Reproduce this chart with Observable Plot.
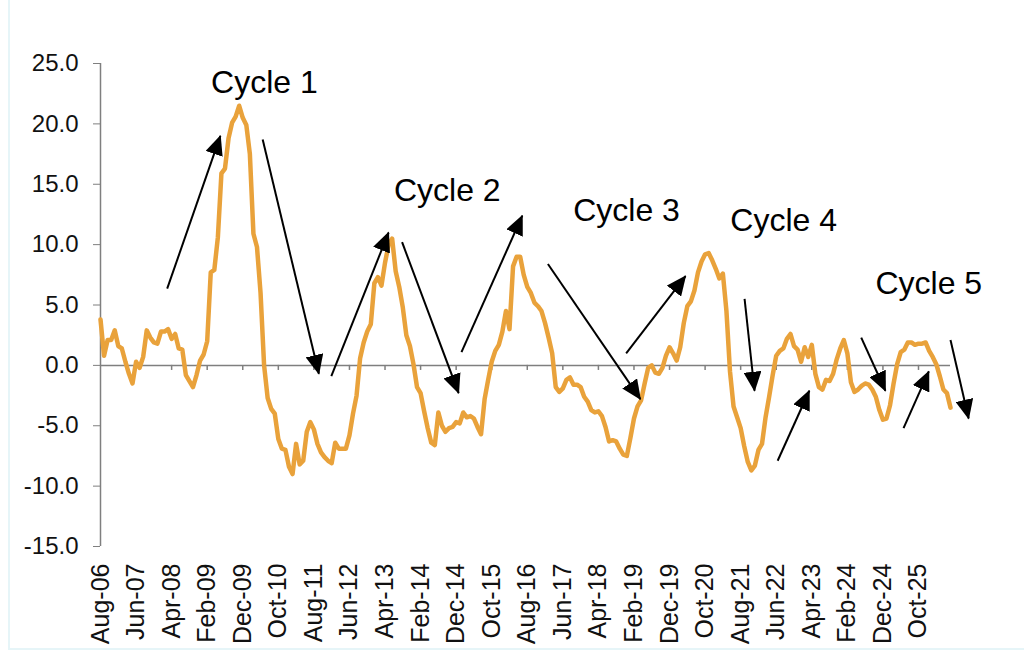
<!DOCTYPE html>
<html>
<head>
<meta charset="utf-8">
<script src="https://cdn.jsdelivr.net/npm/d3@7"></script>
<script src="https://cdn.jsdelivr.net/npm/@observablehq/plot@0.6"></script>
<style>
html, body { margin: 0; padding: 0; background: #fff; }
#wrap { position: relative; width: 1024px; height: 660px; overflow: hidden; }
#frame { position: absolute; left: 8px; top: -4px; width: 1040px; height: 652px;
  border-left: 2px solid #e6f5f8; border-bottom: 2px solid #e6f5f8; pointer-events: none; }
</style>
</head>
<body>
<div id="wrap"><div id="chart"></div><div id="frame"></div></div>
<script>
// Monthly values from Aug-06 (index 0) onward
const values = [
  3.8, 0.8, 2.1, 2.1, 2.9, 1.6, 1.4, 0.3, -0.7, -1.5,
  0.3, -0.2, 0.7, 2.9, 2.3, 1.9, 1.8, 2.8, 2.8, 3.0,
  2.2, 2.6, 1.4, 1.3, -0.8, -1.3, -1.8, -0.8, 0.4, 0.9,
  2.0, 7.7, 7.9, 10.6, 15.9, 16.3, 18.8, 20.1, 20.6, 21.5,
  20.5, 19.9, 17.5, 10.9, 9.8, 6.0, 0.0, -2.7, -3.6, -4.0,
  -6.1, -6.9, -7.0, -8.4, -9.0, -6.5, -8.2, -7.9, -5.5, -4.7,
  -5.3, -6.5, -7.2, -7.6, -7.9, -8.1, -6.4, -6.9, -6.9, -6.9,
  -5.8, -4.0, -2.5, 0.6, 1.9, 2.8, 3.4, 6.8, 7.3, 6.6,
  8.5, 10.0, 10.5, 7.8, 6.5, 4.8, 2.5, 1.6, 0.1, -1.8,
  -2.3, -3.8, -5.2, -6.4, -6.6, -3.9, -5.0, -5.5, -5.2, -5.1,
  -4.7, -4.8, -3.9, -4.3, -4.2, -4.4, -5.1, -5.7, -2.8, -1.2,
  0.3, 1.2, 1.7, 2.8, 4.5, 3.0, 8.2, 9.0, 9.0, 7.5,
  6.5, 6.0, 5.2, 4.9, 4.5, 3.5, 2.3, 1.0, -1.8, -2.2,
  -1.9, -1.2, -1.0, -1.6, -1.6, -1.8, -2.6, -3.0, -3.7, -3.9,
  -3.8, -4.2, -5.1, -6.3, -6.2, -6.3, -6.9, -7.4, -7.5, -6.0,
  -4.4, -3.4, -2.9, -1.5, -0.2, 0.0, -0.6, -0.7, -0.2, 0.8,
  1.5, 1.0, 0.4, 1.5, 3.5, 4.9, 5.3, 6.2, 7.7, 8.6,
  9.2, 9.3, 8.7, 8.0, 7.2, 7.6, 4.5, -0.5, -3.4, -4.3,
  -5.2, -6.7, -8.0, -8.7, -8.3, -7.0, -6.5, -4.3, -2.6, -0.8,
  0.8, 1.2, 1.4, 2.2, 2.6, 1.6, 1.3, 0.3, 1.5, 0.7,
  1.7, -0.7, -1.8, -2.0, -1.2, -1.3, -0.7, 0.5, 1.4, 2.1,
  1.0, -1.4, -2.2, -2.0, -1.7, -1.5, -1.6, -2.0, -2.6, -3.7,
  -4.5, -4.4, -3.3, -1.5, 0.1, 1.1, 1.3, 1.9, 1.9, 1.7,
  1.8, 1.8, 1.9, 1.2, 0.7, 0.1, -0.9, -2.0, -2.3, -3.5
];

// Category labels every 10 months
const xLabels = ["Aug-06","Jun-07","Apr-08","Feb-09","Dec-09","Oct-10","Aug-11","Jun-12",
  "Apr-13","Feb-14","Dec-14","Oct-15","Aug-16","Jun-17","Apr-18","Feb-19","Dec-19",
  "Oct-20","Aug-21","Jun-22","Apr-23","Feb-24","Dec-24","Oct-25"];
const yTicks = [-15, -10, -5, 0, 5, 10, 15, 20, 25];

// Annotation labels (month index, value)
const cycleText = ["Cycle 1", "Cycle 2", "Cycle 3", "Cycle 4", "Cycle 5"];
const cycleX = [31.1, 82.5, 132.9, 177.1, 217.9];
const cycleY = [23.4, 14.5, 12.8, 12.0, 6.8];

// Arrows (from month/value to month/value)
const arrows = [
  {x1: 18.75, y1: 6.35, x2: 33.7, y2: 19.0},
  {x1: 45.6, y1: 18.7, x2: 61.4, y2: -0.7},
  {x1: 64.9, y1: -0.9, x2: 81.0, y2: 11.0},
  {x1: 84.8, y1: 10.2, x2: 100.7, y2: -2.3},
  {x1: 101.5, y1: 1.1, x2: 118.6, y2: 12.4},
  {x1: 125.8, y1: 8.4, x2: 151.8, y2: -2.8},
  {x1: 147.8, y1: 1.0, x2: 164.5, y2: 7.4},
  {x1: 181.1, y1: 5.5, x2: 183.9, y2: -2.1},
  {x1: 190.4, y1: -7.9, x2: 199.3, y2: -2.1},
  {x1: 213.9, y1: 2.3, x2: 220.7, y2: -2.1},
  {x1: 225.8, y1: -5.2, x2: 232.9, y2: -0.5},
  {x1: 239.0, y1: 2.1, x2: 244.1, y2: -4.4}
];

const xTicks = xLabels.map((_, i) => i * 10);
const last = values.length - 1;
const gray = "#7f7f7f";

const plot = Plot.plot({
  width: 1024,
  height: 660,
  marginLeft: 100,
  marginRight: 74,
  marginTop: 63,
  marginBottom: 114,
  style: {fontFamily: "'Liberation Sans', Arial, sans-serif", background: "transparent", color: "#111"},
  x: {domain: [0, last]},
  y: {domain: [-15, 25]},
  marks: [
    Plot.ruleX([0], {y1: -15, y2: 25, stroke: gray, strokeWidth: 1.5}),
    Plot.ruleY([0], {x1: 0, x2: last, stroke: gray, strokeWidth: 1.5}),
    Plot.ruleX(xTicks.slice(1), {x: d => d, y1: 0, y2: -0.42, stroke: gray, strokeWidth: 1.5}),
    Plot.axisY({ticks: yTicks, tickFormat: d => d.toFixed(1), tickSize: 7, tickPadding: 15,
      fontSize: 24, label: null, stroke: gray}),
    Plot.axisX({ticks: xTicks, tickFormat: d => xLabels[Math.round(d / 10)], tickRotate: -90,
      tickSize: 0, tickPadding: 17, fontSize: 25, label: null}),
    Plot.line(values, {x: (d, i) => i, y: d => d, stroke: "#E9A23B", strokeWidth: 4.5,
      strokeLinejoin: "round", strokeLinecap: "round"}),
    Plot.link(arrows, {x1: "x1", y1: "y1", x2: "x2", y2: "y2", stroke: "#000", strokeWidth: 2}),
    Plot.text(cycleText, {x: (d, i) => cycleX[i], y: (d, i) => cycleY[i], text: d => d,
      textAnchor: "start", fontSize: 32, fill: "#000"})
  ]
});

// filled arrow heads
const defs = document.createElementNS("http://www.w3.org/2000/svg", "defs");
defs.innerHTML = '<marker id="ahead" viewBox="0 0 20 18" refX="19" refY="9" markerWidth="20" markerHeight="18" markerUnits="userSpaceOnUse" orient="auto"><path d="M0,0L20,9L0,18Z" fill="#000"/></marker>';
plot.insertBefore(defs, plot.firstChild);
plot.querySelectorAll('g[aria-label="link"] path').forEach(p => p.setAttribute("marker-end", "url(#ahead)"));

document.getElementById("chart").appendChild(plot);
</script>
</body>
</html>
